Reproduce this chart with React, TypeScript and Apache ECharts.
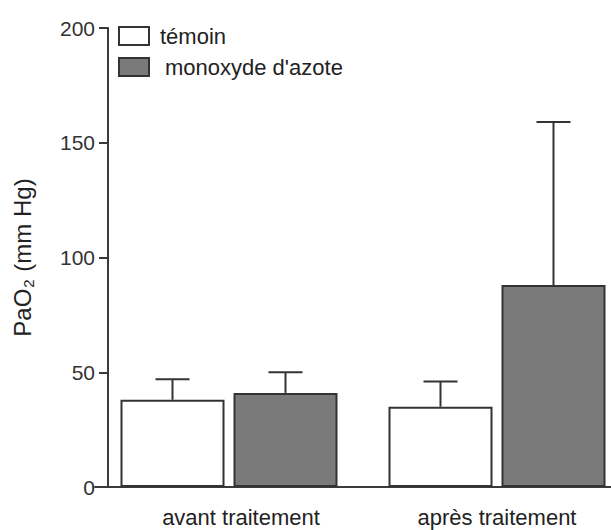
import React, { useEffect, useRef } from "react";
import * as echarts from "echarts";

const categories = ["avant traitement", "après traitement"];
const seriesNames = ["témoin", "monoxyde d'azote"];
const temoinMean = [38, 35];
const temoinSem = [9, 11];
const noMean = [41, 88];
const noSem = [9, 71];
const yTicks = [0, 50, 100, 150, 200];

const BAR_W = 104;
const BAR_GAP = 9;
const CAP = 34;

export default function App() {
  const ref = useRef<HTMLDivElement>(null);
  useEffect(() => {
    if (!ref.current) return;
    const chart = echarts.init(ref.current, null, { renderer: "svg" });
    const errData = (means: number[], sems: number[]) =>
      means.map((m, i) => [i, m, m + sems[i]]);
    const errSeries = (name: string, means: number[], sems: number[], side: number) => ({
      type: "custom",
      name: name + "-err",
      z: 5,
      data: errData(means, sems),
      renderItem: (params: any, api: any) => {
        const idx = api.value(0);
        const base = api.coord([idx, api.value(1)]);
        const top = api.coord([idx, api.value(2)]);
        const x = base[0] + side * (BAR_W / 2 + BAR_GAP / 2);
        const style = { stroke: "#333", lineWidth: 2 };
        return {
          type: "group",
          children: [
            { type: "line", shape: { x1: x, y1: base[1], x2: x, y2: top[1] }, style },
            { type: "line", shape: { x1: x - CAP / 2, y1: top[1], x2: x + CAP / 2, y2: top[1] }, style },
          ],
        };
      },
    });
    chart.setOption({
      animation: false,
      backgroundColor: "#fff",
      textStyle: { fontFamily: "Arial, 'Liberation Sans', sans-serif" },
      legend: {
        data: [
          { name: seriesNames[0] },
          { name: seriesNames[1], textStyle: { padding: [0, 0, 0, 11] } },
        ],
        orient: "vertical",
        icon: "rect",
        left: 118,
        top: 25,
        padding: 0,
        itemWidth: 30,
        itemHeight: 18,
        itemGap: 9,
        textStyle: { fontSize: 22, color: "#222", padding: [0, 0, 0, 6] },
      },
      grid: { left: 95, width: 536, top: 28, bottom: 43, outerBoundsMode: "none", containLabel: false },
      xAxis: {
        type: "category",
        data: [
          { value: categories[0], textStyle: { padding: [0, 0, 0, 24] } },
          { value: categories[1] },
        ],
        axisLine: { lineStyle: { color: "#3a3a3a", width: 2 } },
        axisTick: { show: false },
        axisLabel: { fontSize: 22, color: "#222", margin: 19 },
      },
      yAxis: {
        type: "value",
        min: 0,
        max: 200,
        interval: 50,
        offset: -13,
        splitLine: { show: false },
        axisLine: { show: true, lineStyle: { color: "#3a3a3a", width: 2 } },
        axisTick: { show: true, length: 9, lineStyle: { width: 2, color: "#3a3a3a" } },
        axisLabel: {
          fontSize: 21,
          color: "#333",
          margin: 13,
          formatter: (v: number) => (yTicks.includes(v) ? String(v) : ""),
        },
        name: "PaO{s|2} (mm Hg)",
        nameLocation: "middle",
        nameGap: 72,
        nameTextStyle: {
          fontSize: 24,
          color: "#222",
          rich: { s: { fontSize: 15, padding: [12, 1, 0, 1], color: "#222" } },
        },
      },
      series: [
        {
          type: "bar",
          name: seriesNames[0],
          data: temoinMean,
          barWidth: BAR_W,
          barGap: (BAR_GAP / BAR_W) * 100 + "%",
          itemStyle: { color: "#ffffff", borderColor: "#333", borderWidth: 2 },
        },
        {
          type: "bar",
          name: seriesNames[1],
          data: noMean,
          barWidth: BAR_W,
          itemStyle: { color: "#7a7a7a", borderColor: "#333", borderWidth: 2 },
        },
        errSeries(seriesNames[0], temoinMean, temoinSem, -1),
        errSeries(seriesNames[1], noMean, noSem, 1),
      ],
    });
    return () => chart.dispose();
  }, []);
  return (
    <div
      ref={ref}
      style={{ position: "fixed", left: 0, top: 0, width: 611, height: 530, background: "#fff" }}
    />
  );
}
